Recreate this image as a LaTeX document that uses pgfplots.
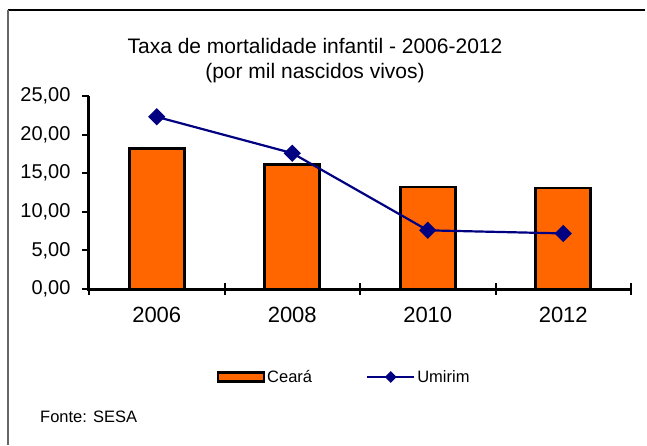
\documentclass[border=0pt]{standalone}
\usepackage{fontspec}
\setmainfont{Liberation Sans}
\usepackage{pgfplots}
\pgfplotsset{compat=1.18}
\definecolor{barorange}{HTML}{FF6600}
\definecolor{linenavy}{HTML}{000080}
\pgfplotsset{
  barlegend/.style={legend image code/.code={\draw[fill=barorange, draw=black, line width=2.2pt] (0pt,-4.5pt) rectangle (46pt,4.5pt);}},
  linelegend/.style={legend image code/.code={\draw[##1, mark size=3pt, mark repeat=2, mark phase=2] plot coordinates {(0pt,0pt) (23.5pt,0pt) (47pt,0pt)};}},
}
\begin{document}
\begin{tikzpicture}[x=1pt,y=1pt]
\useasboundingbox (-89,-156) rectangle (558,289);
% frame
\draw[black, line width=1.5pt] (-81,279) -- (556,279);
\draw[gray!80!black, line width=1.5pt] (-81,279) -- (-81,-156);
\begin{axis}[
    at={(0,0)}, anchor=south west,
    scale only axis, width=542pt, height=193pt,
    xmin=-0.5, xmax=3.5, ymin=0, ymax=25,
    axis x line*=bottom, axis y line*=left,
    axis line style={line width=3pt, -},
    xtick={0,1,2,3}, xticklabels={2006,2008,2010,2012},
    major x tick style={draw=none},
    minor xtick={-0.5,0.5,1.5,2.5,3.5},
    minor x tick style={line width=2pt, black},
    minor tick length=12pt,
    ytick={0,5,10,15,20,25},
    y tick style={line width=2pt, black},
    major tick length=7pt,
    tick align=outside,
    xtick align=center,
    /pgf/number format/.cd, fixed, fixed zerofill, precision=2, use comma, assume math mode=true,
    /pgfplots/.cd,
    yticklabel style={font=\fontsize{20}{22}\selectfont, xshift=-8pt},
    xticklabel style={font=\fontsize{22}{24}\selectfont, yshift=-11pt},
    legend columns=-1,
    legend style={at={(0.471,-0.456)}, anchor=center, draw=none, fill=none,
        font=\fontsize{16.5}{18}\selectfont,
        /tikz/every even column/.append style={column sep=52pt}},
]
\addplot[ybar, bar width=55pt, fill=barorange, draw=black, line width=2.6pt, barlegend]
    coordinates {(0,18.2) (1,16.1) (2,13.2) (3,13.1)};
\addlegendentry{Ceará}
\addplot[color=linenavy, line width=2.2pt, mark=square*, mark size=5pt,
    mark options={rotate=45, fill=linenavy}, linelegend]
    coordinates {(0,22.3) (1,17.6) (2,7.6) (3,7.2)};
\addlegendentry{Umirim}
\end{axis}
% heavy axis lines as in the original
\draw[black, line width=3pt] (0,193) -- (0,-1.5) (-1.5,0) -- (542,0);
\node[align=center, font=\fontsize{21}{25}\selectfont] at (226,228.5)
    {Taxa de mortalidade infantil - 2006-2012\\(por mil nascidos vivos)};
\node[anchor=west, font=\fontsize{16.5}{18}\selectfont, inner sep=0pt] at (-49,-128) {Fonte: SESA};
\end{tikzpicture}
\end{document}
